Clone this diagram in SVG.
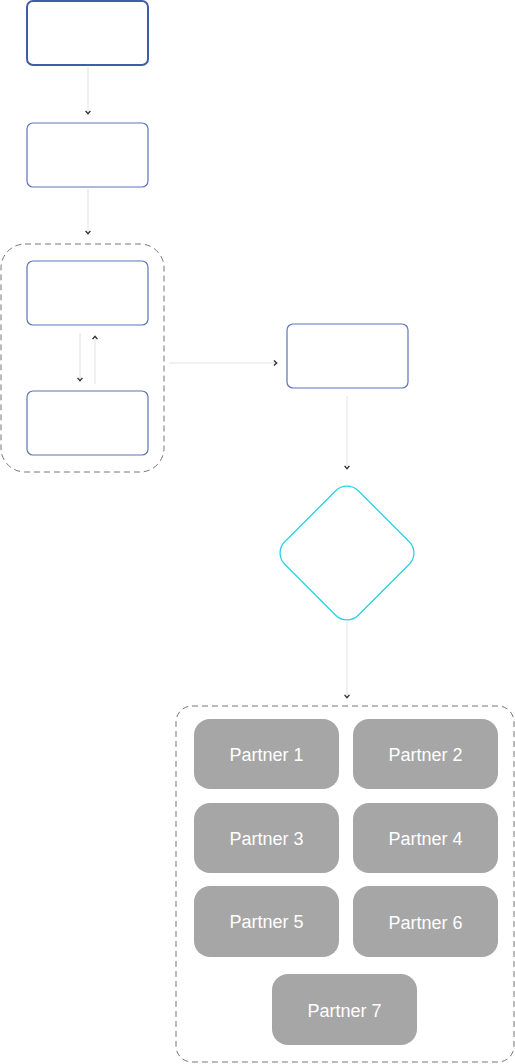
<svg xmlns="http://www.w3.org/2000/svg" width="515" height="1064" viewBox="0 0 515 1064">
<style>
.box{fill:#fff;stroke:#5b74b8;stroke-width:1.2}
.box1{fill:#fff;stroke:#3f5ea8;stroke-width:2}
.grp{fill:none;stroke:#777;stroke-width:1;stroke-dasharray:6 4}
.conn{fill:none;stroke:#e2e2e2;stroke-width:1}
.partner{fill:#a6a6a6}
.ptxt{fill:#fff;font-family:"Liberation Sans",Arial,sans-serif;font-size:18px;text-anchor:middle}
.dia{fill:#fff;stroke:#29d3e6;stroke-width:1.3}
</style>
<defs>
<marker id="chev" viewBox="0 0 10 10" refX="5" refY="5" markerWidth="7" markerHeight="7" orient="auto" markerUnits="userSpaceOnUse">
<polyline points="2,1.5 6,5 2,8.5" fill="none" stroke="#333" stroke-width="2"/>
</marker>
</defs>
<g id="connectors">
<line class="conn" x1="88" y1="67" x2="88" y2="113" marker-end="url(#chev)"/>
<line class="conn" x1="88" y1="189" x2="88" y2="233" marker-end="url(#chev)"/>
<line class="conn" x1="80" y1="333" x2="80" y2="380" marker-end="url(#chev)"/>
<line class="conn" x1="95" y1="384" x2="95" y2="337" marker-end="url(#chev)"/>
<line class="conn" x1="169" y1="363" x2="276" y2="363" marker-end="url(#chev)"/>
<line class="conn" x1="347" y1="396" x2="347" y2="468" marker-end="url(#chev)"/>
<line class="conn" x1="347" y1="622" x2="347" y2="697" marker-end="url(#chev)"/>
</g>
<g id="group1"><rect class="grp" x="1" y="244" width="163" height="228" rx="24"/></g>
<g id="node1"><rect class="box1" x="27" y="1" width="121" height="64" rx="6"/></g>
<g id="node2"><rect class="box" x="27" y="123" width="121" height="64" rx="6"/></g>
<g id="node3"><rect class="box" x="27" y="261" width="121" height="64" rx="6"/></g>
<g id="node4"><rect class="box" x="27" y="391" width="121" height="64" rx="6"/></g>
<g id="node5"><rect class="box" x="287" y="324" width="121" height="64" rx="6"/></g>
<g id="decision"><rect class="dia" x="295" y="501" width="104" height="104" rx="16" transform="rotate(45 347 553)"/></g>
<g id="group2"><rect class="grp" x="176" y="706" width="338" height="356" rx="16"/></g>
<g id="partner1"><rect class="partner" x="194" y="719" width="145" height="70" rx="16"/><text class="ptxt" x="266.5" y="761">Partner 1</text></g>
<g id="partner2"><rect class="partner" x="353" y="719" width="145" height="70" rx="16"/><text class="ptxt" x="425.5" y="761">Partner 2</text></g>
<g id="partner3"><rect class="partner" x="194" y="803" width="145" height="70" rx="16"/><text class="ptxt" x="266.5" y="845">Partner 3</text></g>
<g id="partner4"><rect class="partner" x="353" y="803" width="145" height="70" rx="16"/><text class="ptxt" x="425.5" y="845">Partner 4</text></g>
<g id="partner5"><rect class="partner" x="194" y="886" width="145" height="71" rx="16"/><text class="ptxt" x="266.5" y="928">Partner 5</text></g>
<g id="partner6"><rect class="partner" x="353" y="886" width="145" height="71" rx="16"/><text class="ptxt" x="425.5" y="929">Partner 6</text></g>
<g id="partner7"><rect class="partner" x="272" y="974" width="145" height="71" rx="16"/><text class="ptxt" x="344.5" y="1017">Partner 7</text></g>
</svg>
